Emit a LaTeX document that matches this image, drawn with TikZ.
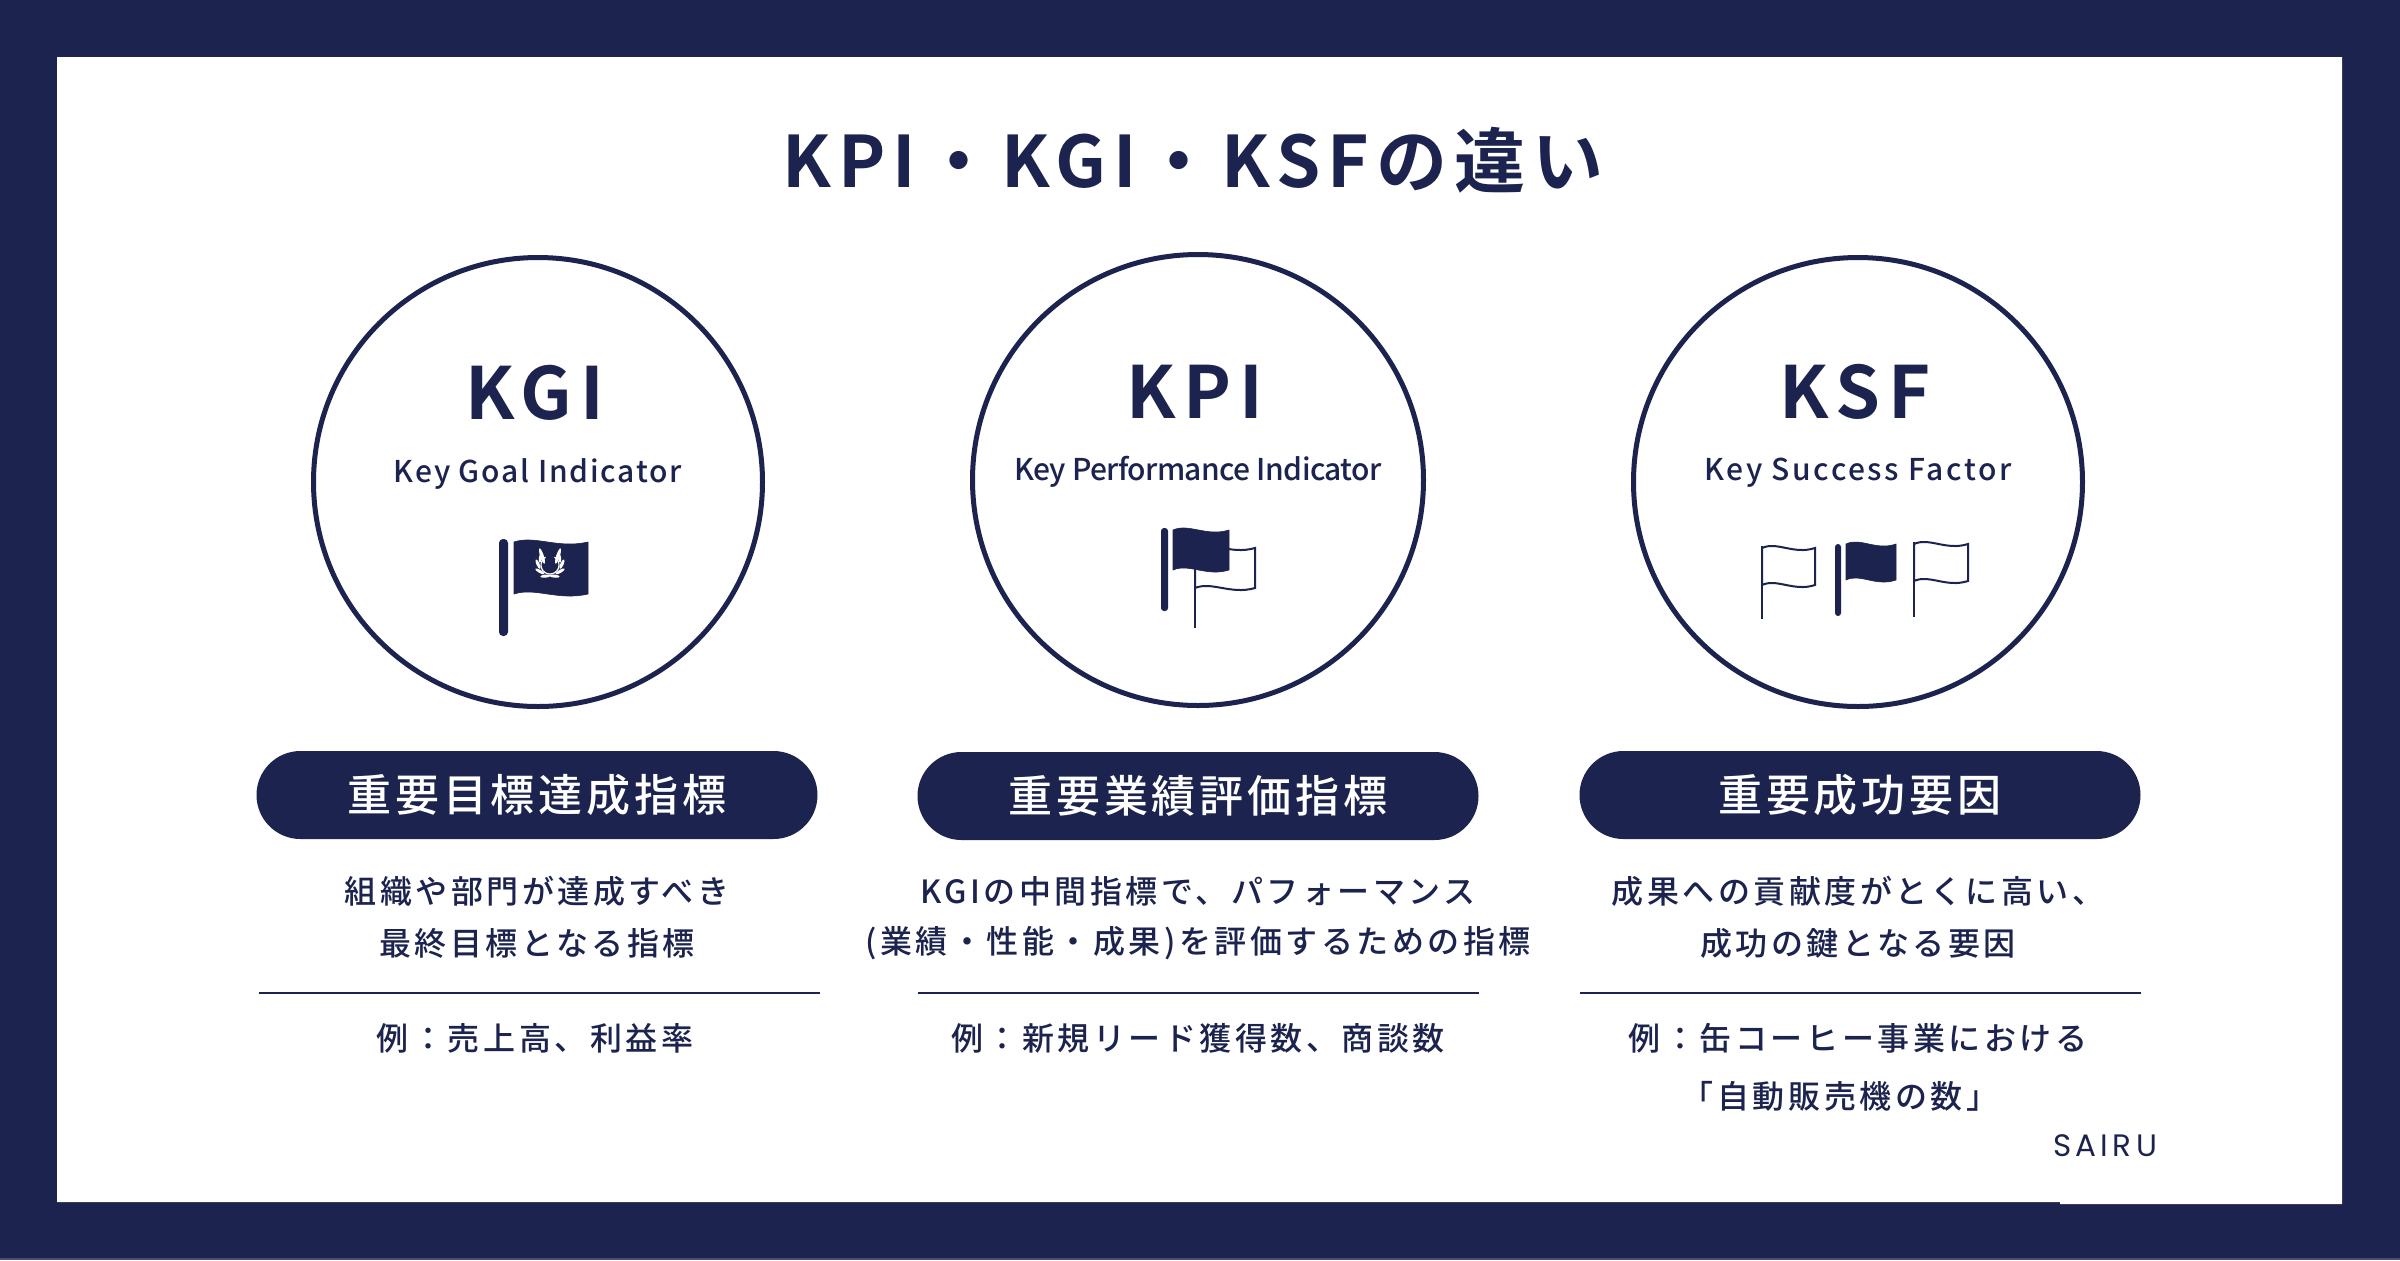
\documentclass[tikz,border=0pt]{standalone}
\usepackage{fontspec}
\setmainfont{Noto Sans CJK JP}
\newfontfamily\jpm{Noto Sans CJK JP Medium}
\newfontfamily\jpb{Noto Sans CJK JP Bold}
\newfontfamily\logofont{Poppins}
\definecolor{navy}{HTML}{1B234E}
\newcommand{\fs}[1]{\fontsize{#1}{#1}\selectfont}
\newcommand{\spc}[1]{\addfontfeature{LetterSpace=#1}}
% wavy flag outline, in the current scope; #1 width, #2 height, #3 draw options
\newcommand{\flagshape}[3]{\path[#3] (0,0) .. controls ({.28*#1},-7) and ({.6*#1},7) .. (#1,0) -- (#1,#2) .. controls ({.6*#1},{#2+7}) and ({.28*#1},{#2-7}) .. (0,#2) -- cycle;}
\tikzset{
  ring/.style={circle,draw=navy,line width=2.5pt,minimum size=449*0.5pt,inner sep=0pt},
  pill/.style={fill=navy,text=white,rounded corners=22pt,minimum width=280.5pt,minimum height=44pt,inner sep=0pt,font=\jpm\fs{22}\spc{9}},
  bigabbr/.style={text=navy,inner sep=0pt,font=\jpb\fs{36}\spc{11}},
  longname/.style={text=navy,inner sep=0pt,font=\jpm\fs{15.5}},
  body/.style={text=navy,inner sep=0pt,font=\jpm\fs{16}\spc{11}},
  solidflag/.style={fill=navy,draw=navy,line width=.3pt},
  thinflag/.style={draw=navy,line width=1pt,fill=white},
  rule/.style={draw=navy,line width=.7pt},
  leaf/.style={fill=white,draw=none}
}
\begin{document}
\begin{tikzpicture}[x=0.5pt,y=-0.5pt]
\useasboundingbox (0,0) rectangle (2400,1260);
\fill[navy] (0,0) rectangle (2400,1260);
\fill[white] (57,57) -- (2342,57) -- (2342,1204) -- (2060,1204) -- (2060,1202) -- (57,1202) -- cycle;
\fill[navy!80!white] (0,1258) rectangle (2400,1260);

\node[text=navy,inner sep=0pt,font=\jpb\fs{35.5}\spc{10}] (title) at (1193,160) {KPI・KGI・KSFの違い};

% circles
\node[ring] (c1) at (538,482) {};
\node[ring,minimum size=451*0.5pt] (c2) at (1198,480) {};
\node[ring] (c3) at (1858,482) {};

\node[bigabbr] (a1) at (535,393) {KGI};
\node[bigabbr] (a2) at (1195,392) {KPI};
\node[bigabbr] (a3) at (1855,392) {KSF};

\node[longname,font=\jpm\fs{15}\spc{6}] (n1) at (538,474) {Key Goal Indicator};
\node[longname,font=\jpm\fs{15}\spc{-2}] (n2) at (1198,472) {Key Performance Indicator};
\node[longname,font=\jpm\fs{15}\spc{8.5}] (n3) at (1858,473) {Key Success Factor};

% KGI flag
\fill[navy,rounded corners=2pt] (499,636) -- (499,539) -- (508,539) -- (508,636) -- cycle;
\begin{scope}[shift={(514,542)}]
\flagshape{74}{52}{solidflag}
\end{scope}
\foreach \s in {1,-1}{
  \draw[white,line width=.6pt] plot[domain=0:150,samples=10] ({550+\s*9*sin(\x)},{565+9*cos(\x)});
  \foreach \t in {22,58,94,128}{
    \fill[leaf,shift={({550+\s*12*sin(\t)},{565+12*cos(\t)})},rotate={\s>0 ? \t-28 : 208-\t}] (0,0) ellipse [x radius=2.6pt,y radius=.8pt];
  }
  \fill[leaf,shift={({550+\s*8},556)},rotate={\s>0 ? 72 : 108}] (0,0) ellipse [x radius=4pt,y radius=.9pt];
}

% KPI flags
\begin{scope}[shift={(1195,548)}]
\flagshape{60}{40}{thinflag}
\end{scope}
\draw[navy,line width=1pt] (1195,545) -- (1195,628);
\fill[navy,rounded corners=1.5pt] (1161,611) -- (1161,528) -- (1168,528) -- (1168,611) -- cycle;
\begin{scope}[shift={(1173,530)}]
\flagshape{56}{40}{solidflag}
\end{scope}

% KSF flags
\begin{scope}[shift={(1762,548)}]
\flagshape{53}{37}{thinflag}
\end{scope}
\draw[navy,line width=1pt] (1762,546) -- (1762,619);
\fill[navy,rounded corners=1.5pt] (1835,616) -- (1835,544) -- (1841,544) -- (1841,616) -- cycle;
\begin{scope}[shift={(1846,544)}]
\flagshape{50}{36}{solidflag}
\end{scope}
\begin{scope}[shift={(1914,544)}]
\flagshape{54}{37}{thinflag}
\end{scope}
\draw[navy,line width=1pt] (1914,542) -- (1914,617);

% pills
\node[pill] (p1) at (537,795) {重要目標達成指標};
\node[pill] (p2) at (1198,796) {重要業績評価指標};
\node[pill] (p3) at (1860,795) {重要成功要因};

% descriptions
\node[body] (d11) at (537,891) {組織や部門が達成すべき};
\node[body] (d12) at (537,943) {最終目標となる指標};
\node[body] (d21) at (1198,891) {KGIの中間指標で、パフォーマンス};
\node[body] (d22) at (1198,943) {(業績・性能・成果)を評価するための指標};
\node[body] (d31) at (1858,891) {成果への貢献度がとくに高い、};
\node[body] (d32) at (1858,943) {成功の鍵となる要因};

\coordinate (l1a) at (259,993); \coordinate (l1b) at (820,993);
\coordinate (l2a) at (918,993); \coordinate (l2b) at (1479,993);
\coordinate (l3a) at (1580,993); \coordinate (l3b) at (2141,993);
\draw[rule] (l1a) -- (l1b);
\draw[rule] (l2a) -- (l2b);
\draw[rule] (l3a) -- (l3b);

\node[body] (e1) at (535,1038) {例：売上高、利益率};
\node[body] (e2) at (1198,1038) {例：新規リード獲得数、商談数};
\node[body] (e3) at (1858,1038) {例：缶コーヒー事業における};
\node[body] (e4) at (1840,1096) {「自動販売機の数」};

\node[text=navy,inner sep=0pt,font=\logofont\fs{15.5}\spc{14}] (logo) at (2105,1146) {SAIRU};
\end{tikzpicture}
\end{document}
